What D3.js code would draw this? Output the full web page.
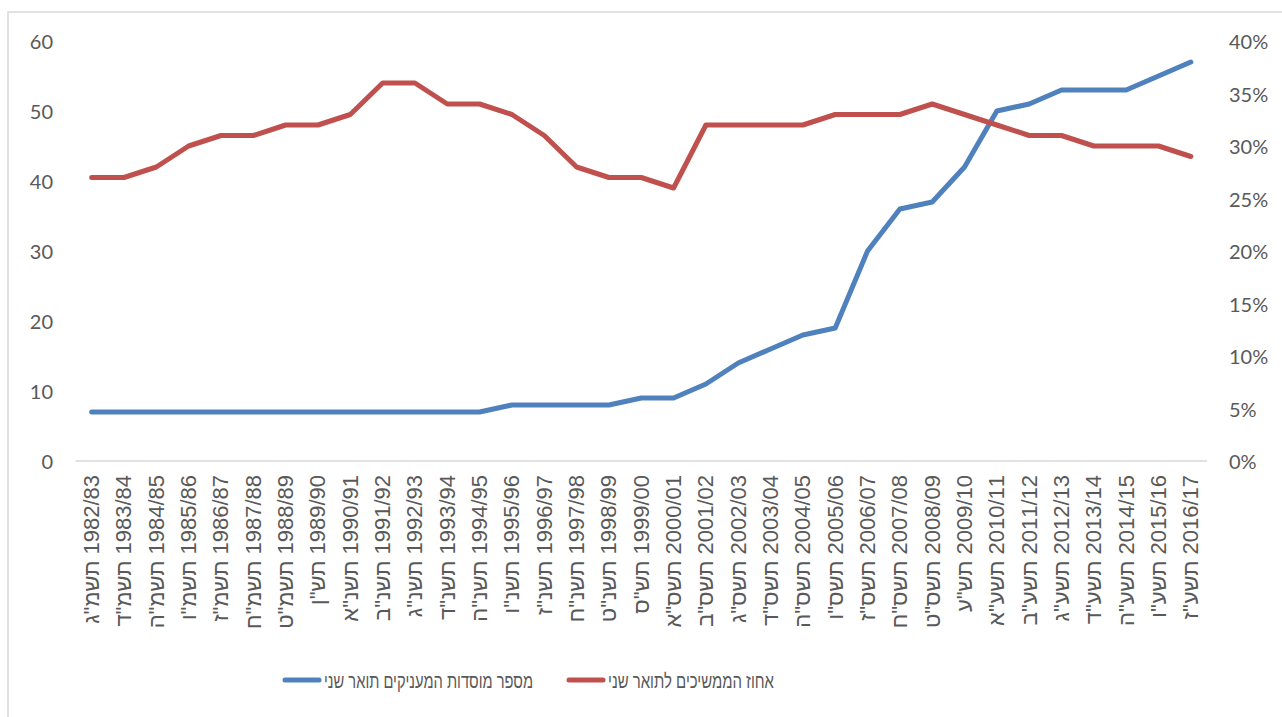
<!DOCTYPE html>
<html>
<head>
<meta charset="utf-8">
<script src="https://cdn.jsdelivr.net/npm/d3@7"></script>
<style>
  body { margin: 0; background: #fff; }
  svg { display: block; }
</style>
</head>
<body>
<svg id="chart" width="1282" height="717"></svg>
<script>
// academic years (gregorian + hebrew)
var years = ['1982/83','1983/84','1984/85','1985/86','1986/87','1987/88','1988/89','1989/90','1990/91','1991/92',
             '1992/93','1993/94','1994/95','1995/96','1996/97','1997/98','1998/99','1999/00','2000/01','2001/02',
             '2002/03','2003/04','2004/05','2005/06','2006/07','2007/08','2008/09','2009/10','2010/11','2011/12',
             '2012/13','2013/14','2014/15','2015/16','2016/17'];
var hebYears = ['תשמ"ג','תשמ"ד','תשמ"ה','תשמ"ו','תשמ"ז','תשמ"ח','תשמ"ט','תש"ן','תשנ"א','תשנ"ב',
                'תשנ"ג','תשנ"ד','תשנ"ה','תשנ"ו','תשנ"ז','תשנ"ח','תשנ"ט','תש"ס','תשס"א','תשס"ב',
                'תשס"ג','תשס"ד','תשס"ה','תשס"ו','תשס"ז','תשס"ח','תשס"ט','תש"ע','תשע"א','תשע"ב',
                'תשע"ג','תשע"ד','תשע"ה','תשע"ו','תשע"ז'];

// number of institutions granting a master's degree (left axis)
var institutions = [7,7,7,7,7,7,7,7,7,7,7,7,7,8,8,8,8,9,9,11,14,16,18,19,30,36,37,42,50,51,53,53,53,55,57];
// share continuing to a master's degree (right axis)
var continuing = [0.27,0.27,0.28,0.30,0.31,0.31,0.32,0.32,0.33,0.36,0.36,0.34,0.34,0.33,0.31,0.28,0.27,0.27,0.26,0.32,
                  0.32,0.32,0.32,0.33,0.33,0.33,0.34,0.33,0.32,0.31,0.31,0.30,0.30,0.30,0.29];

var leftTicks = [0,10,20,30,40,50,60];
var rightTicks = [0,0.05,0.10,0.15,0.20,0.25,0.30,0.35,0.40];

var legendNames = ['מספר מוסדות המעניקים תואר שני', 'אחוז הממשיכים לתואר שני'];

var blue = '#4F81BD', red = '#C0504D', textColor = '#595959';

var svg = d3.select('#chart');

// chart border
svg.append('rect')
  .attr('x', 8).attr('y', 12)
  .attr('width', 1400).attr('height', 800)
  .attr('fill', 'none')
  .attr('stroke', '#d9d9d9')
  .attr('stroke-width', 1.5);

var x = d3.scaleBand().domain(years).range([75.5, 1207]);
var cx = function(i) { return x(years[i]) + x.bandwidth() / 2; };
var yL = d3.scaleLinear().domain([0, 60]).range([461, 41]);
var yR = d3.scaleLinear().domain([0, 0.4]).range([461, 41]);

// category axis line
svg.append('line')
  .attr('x1', 75.5).attr('x2', 1207)
  .attr('y1', yL(0)).attr('y2', yL(0))
  .attr('stroke', '#d9d9d9').attr('stroke-width', 1.5);

// left tick labels
svg.selectAll('.lt').data(leftTicks).enter().append('text')
  .attr('x', 53).attr('y', function(d) { return yL(d); })
  .attr('text-anchor', 'end')
  .attr('dominant-baseline', 'central')
  .attr('font-family', 'Lato, sans-serif')
  .attr('font-size', 20)
  .attr('fill', textColor)
  .text(function(d) { return d; });

// right tick labels
svg.selectAll('.rt').data(rightTicks).enter().append('text')
  .attr('x', 1229).attr('y', function(d) { return yR(d); })
  .attr('text-anchor', 'start')
  .attr('dominant-baseline', 'central')
  .attr('font-family', 'Lato, sans-serif')
  .attr('font-size', 20)
  .attr('fill', textColor)
  .text(function(d) { return d3.format('.0%')(d); });

// category labels, rotated
svg.selectAll('.xl').data(years).enter().append('text')
  .attr('transform', function(d, i) { return 'translate(' + cx(i) + ',475) rotate(-90)'; })
  .attr('text-anchor', 'end')
  .attr('dominant-baseline', 'central')
  .attr('font-family', '"Liberation Sans", Arial, sans-serif')
  .attr('font-size', 22)
  .attr('fill', textColor)
  .text(function(d, i) { return hebYears[i] + '\u200E ' + d; });

// lines
var lineL = d3.line().x(function(d, i) { return cx(i); }).y(function(d) { return yL(d); });
var lineR = d3.line().x(function(d, i) { return cx(i); }).y(function(d) { return yR(d); });

svg.append('path').datum(institutions)
  .attr('d', lineL)
  .attr('fill', 'none').attr('stroke', blue).attr('stroke-width', 5)
  .attr('stroke-linejoin', 'round').attr('stroke-linecap', 'round');

svg.append('path').datum(continuing)
  .attr('d', lineR)
  .attr('fill', 'none').attr('stroke', red).attr('stroke-width', 5)
  .attr('stroke-linejoin', 'round').attr('stroke-linecap', 'round');

// legend (sample on the left, label to its right)
var legendItems = [{name: legendNames[0], color: blue, x: 285, w: 209},
                   {name: legendNames[1], color: red, x: 569, w: 166}];
var lg = svg.selectAll('.lg').data(legendItems).enter().append('g');
lg.append('line')
  .attr('x1', function(d) { return d.x; }).attr('x2', function(d) { return d.x + 34; })
  .attr('y1', 680).attr('y2', 680)
  .attr('stroke', function(d) { return d.color; })
  .attr('stroke-width', 5).attr('stroke-linecap', 'round');
lg.append('text')
  .attr('x', function(d) { return d.x + 39; }).attr('y', 681)
  .attr('direction', 'ltr')
  .attr('text-anchor', 'start')
  .attr('dominant-baseline', 'central')
  .attr('font-family', '"Liberation Sans", Arial, sans-serif')
  .attr('font-size', 20)
  .attr('textLength', function(d) { return d.w; })
  .attr('lengthAdjust', 'spacingAndGlyphs')
  .attr('fill', textColor)
  .text(function(d) { return d.name; });
</script>
</body>
</html>
